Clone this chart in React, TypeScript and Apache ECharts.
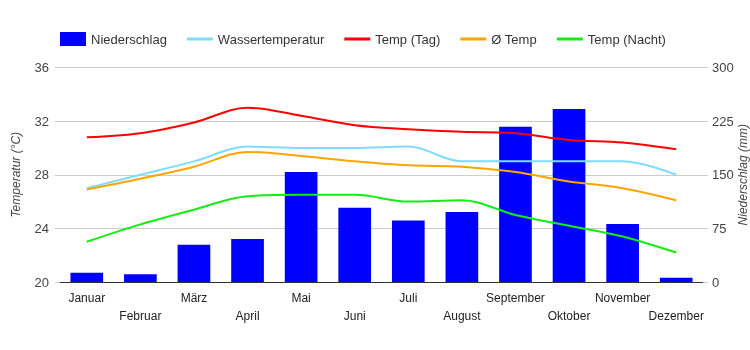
import React, { useEffect, useRef } from "react";
import * as echarts from "echarts";

const months = ["Januar", "Februar", "März", "April", "Mai", "Juni", "Juli", "August", "September", "Oktober", "November", "Dezember"];
const niederschlag = [13, 11, 52, 60, 154, 104, 86, 98, 217, 242, 81, 6];
const wassertemp = [27.0, 28.0, 29.0, 30.1, 30.0, 30.0, 30.1, 29.0, 29.0, 29.0, 29.0, 28.0];
const tempTag = [30.8, 31.1, 31.9, 33.0, 32.4, 31.7, 31.4, 31.2, 31.1, 30.6, 30.4, 29.9];
const tempAvg = [26.9, 27.7, 28.6, 29.7, 29.4, 29.0, 28.7, 28.6, 28.2, 27.5, 27.0, 26.1];
const tempNacht = [23.0, 24.3, 25.4, 26.4, 26.5, 26.5, 26.0, 26.1, 25.0, 24.2, 23.4, 22.2];

const FONT = "'Liberation Sans', Arial, sans-serif";
const LINE_ICON = "path://M0,0h26v3h-26z";

export default function App() {
  const ref = useRef<HTMLDivElement>(null);
  useEffect(() => {
    document.body.style.margin = "0";
    document.body.style.overflow = "hidden";
    document.documentElement.style.overflow = "hidden";
    const chart = echarts.init(ref.current!, null, { renderer: "svg", width: 750, height: 350 });
    const lineSeries = (name: string, data: number[], color: string) => ({
      name,
      type: "line",
      data,
      yAxisIndex: 0,
      smooth: 0.35,
      symbol: "none",
      lineStyle: { color, width: 2 },
      itemStyle: { color },
      z: 3,
    });
    chart.setOption({
      animation: false,
      textStyle: { fontFamily: FONT },
      legend: {
        top: 27,
        left: 55,
        itemWidth: 26,
        itemHeight: 14,
        itemGap: 20,
        textStyle: { fontSize: 13, color: "#333", fontFamily: FONT },
        data: [
          { name: "Niederschlag", icon: "rect" },
          { name: "Wassertemperatur", icon: LINE_ICON },
          { name: "Temp (Tag)", icon: LINE_ICON },
          { name: "Ø Temp", icon: LINE_ICON },
          { name: "Temp (Nacht)", icon: LINE_ICON },
        ],
      },
      grid: { left: 60, right: 47, top: 67.5, bottom: 68, containLabel: false, outerBoundsMode: "none" },
      xAxis: {
        type: "category",
        data: months,
        axisLine: { lineStyle: { color: "#333", width: 1 } },
        axisTick: { show: false },
        axisLabel: {
          interval: 0,
          color: "#222",
          fontSize: 12,
          fontFamily: FONT,
          lineHeight: 18,
          margin: 7,
          formatter: (v: string, i: number) => (i % 2 === 1 ? "\n" + v : v),
        },
      },
      yAxis: [
        {
          type: "value",
          min: 20,
          max: 36,
          interval: 4,
          name: "Temperatur (°C)",
          nameLocation: "middle",
          nameGap: 38,
          nameMoveOverlap: false,
          nameTextStyle: { fontStyle: "italic", color: "#444", fontSize: 12, fontFamily: FONT },
          axisLine: { show: false },
          axisTick: { show: true, length: 5, lineStyle: { color: "#ccc" } },
          axisLabel: { color: "#444", fontSize: 13, margin: 11, fontFamily: FONT },
          splitLine: { lineStyle: { color: "#ccc" } },
        },
        {
          type: "value",
          min: 0,
          max: 300,
          interval: 75,
          name: "Niederschlag (mm)",
          nameLocation: "middle",
          nameGap: 34,
          nameRotate: 90,
          nameMoveOverlap: false,
          nameTextStyle: { fontStyle: "italic", color: "#444", fontSize: 12, fontFamily: FONT },
          axisLine: { show: false },
          axisTick: { show: true, length: 5, lineStyle: { color: "#ccc" } },
          axisLabel: { color: "#444", fontSize: 13, margin: 9, fontFamily: FONT },
          splitLine: { show: false },
        },
      ],
      series: [
        {
          name: "Niederschlag",
          type: "bar",
          yAxisIndex: 1,
          data: niederschlag,
          barWidth: "61%",
          itemStyle: { color: "#0000ff" },
          z: 2,
        },
        lineSeries("Wassertemperatur", wassertemp, "#80dcff"),
        lineSeries("Temp (Tag)", tempTag, "#ff0000"),
        lineSeries("Ø Temp", tempAvg, "#ffa500"),
        lineSeries("Temp (Nacht)", tempNacht, "#11ee11"),
      ],
    });
    return () => chart.dispose();
  }, []);
  return <div ref={ref} style={{ width: 750, height: 350, position: "fixed", left: 0, top: 0 }} />;
}
